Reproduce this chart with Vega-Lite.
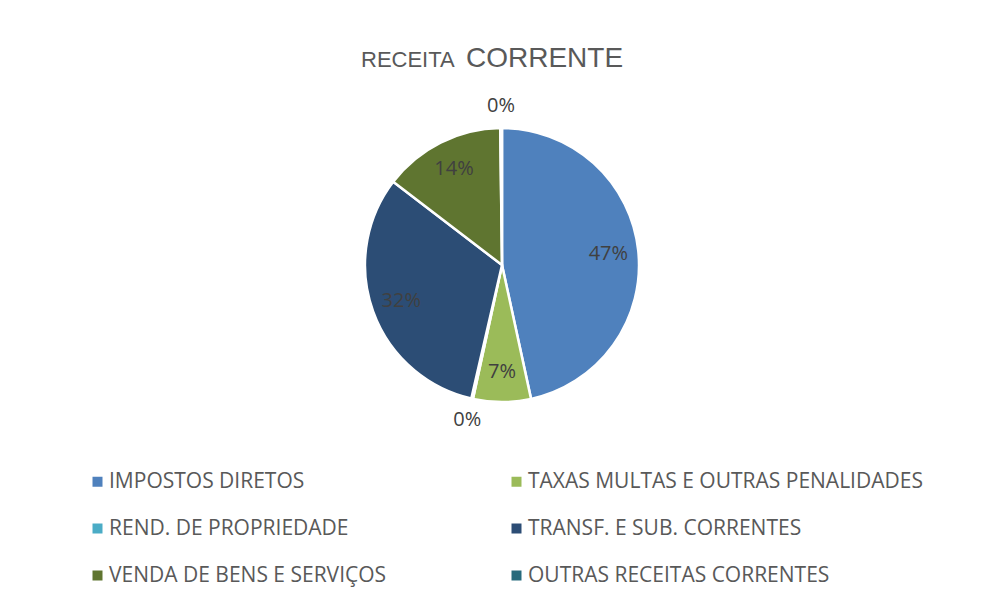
{
  "$schema": "https://vega.github.io/schema/vega-lite/v6.json",
  "width": 276,
  "height": 276,
  "autosize": {"type": "none"},
  "padding": {"left": 364, "top": 127, "right": 347, "bottom": 193},
  "background": "white",
  "title": {
    "text": "RECEITA",
    "subtitle": "\u2800\u2800\u2800\u2800\u2800CORRENTE",
    "anchor": "middle",
    "align": "left",
    "dx": -141,
    "offset": 18,
    "font": "Liberation Sans",
    "subtitleFont": "Liberation Sans",
    "fontSize": 22,
    "subtitleFontSize": 28,
    "fontWeight": "normal",
    "subtitleFontWeight": "normal",
    "color": "#595959",
    "subtitleColor": "#595959",
    "subtitlePadding": -27
  },
  "data": {
    "values": [
      {"categoria": "IMPOSTOS DIRETOS", "valor": 0.466, "ordem": 1},
      {"categoria": "TAXAS MULTAS E OUTRAS PENALIDADES", "valor": 0.068, "ordem": 2},
      {"categoria": "REND. DE PROPRIEDADE", "valor": 0.002, "ordem": 3},
      {"categoria": "TRANSF. E SUB. CORRENTES", "valor": 0.318, "ordem": 4},
      {"categoria": "VENDA DE BENS E SERVIÇOS", "valor": 0.144, "ordem": 5},
      {"categoria": "OUTRAS RECEITAS CORRENTES", "valor": 0.002, "ordem": 6}
    ]
  },
  "encoding": {
    "theta": {"field": "valor", "type": "quantitative", "stack": true},
    "order": {"field": "ordem", "type": "quantitative"}
  },
  "layer": [
    {
      "mark": {"type": "arc", "outerRadius": 137, "stroke": "white", "strokeWidth": 2.5},
      "encoding": {
        "color": {
          "field": "categoria",
          "type": "nominal",
          "scale": {
            "domain": ["IMPOSTOS DIRETOS", "TAXAS MULTAS E OUTRAS PENALIDADES", "REND. DE PROPRIEDADE", "TRANSF. E SUB. CORRENTES", "VENDA DE BENS E SERVIÇOS", "OUTRAS RECEITAS CORRENTES"],
            "range": ["#4F81BD", "#9BBB59", "#4BACC6", "#2C4D75", "#5F7530", "#276A7C"]
          },
          "legend": {
            "title": null,
            "orient": "none",
            "direction": "horizontal",
            "legendX": -277,
            "legendY": 344,
            "columns": 2,
            "columnPadding": 119,
            "rowPadding": 25,
            "padding": 0,
            "symbolType": "square",
            "symbolSize": 100,
            "symbolStrokeWidth": 0,
            "labelOffset": 1,
            "labelFont": "Open Sans",
            "labelFontSize": 21,
            "labelColor": "#595959",
            "labelLimit": 600
          }
        }
      }
    },
    {
      "mark": {"type": "text", "radius": 107, "font": "Open Sans", "fontSize": 20, "color": "#404040"},
      "encoding": {
        "text": {
          "condition": {"test": "datum.valor < 0.01", "value": ""},
          "field": "valor", "type": "quantitative", "format": ".0%"
        }
      }
    },
    {
      "mark": {"type": "text", "radius": 159, "font": "Open Sans", "fontSize": 20, "color": "#404040"},
      "encoding": {
        "text": {
          "condition": {"test": "datum.valor >= 0.01", "value": ""},
          "field": "valor", "type": "quantitative", "format": ".0%"
        }
      }
    }
  ]
}
